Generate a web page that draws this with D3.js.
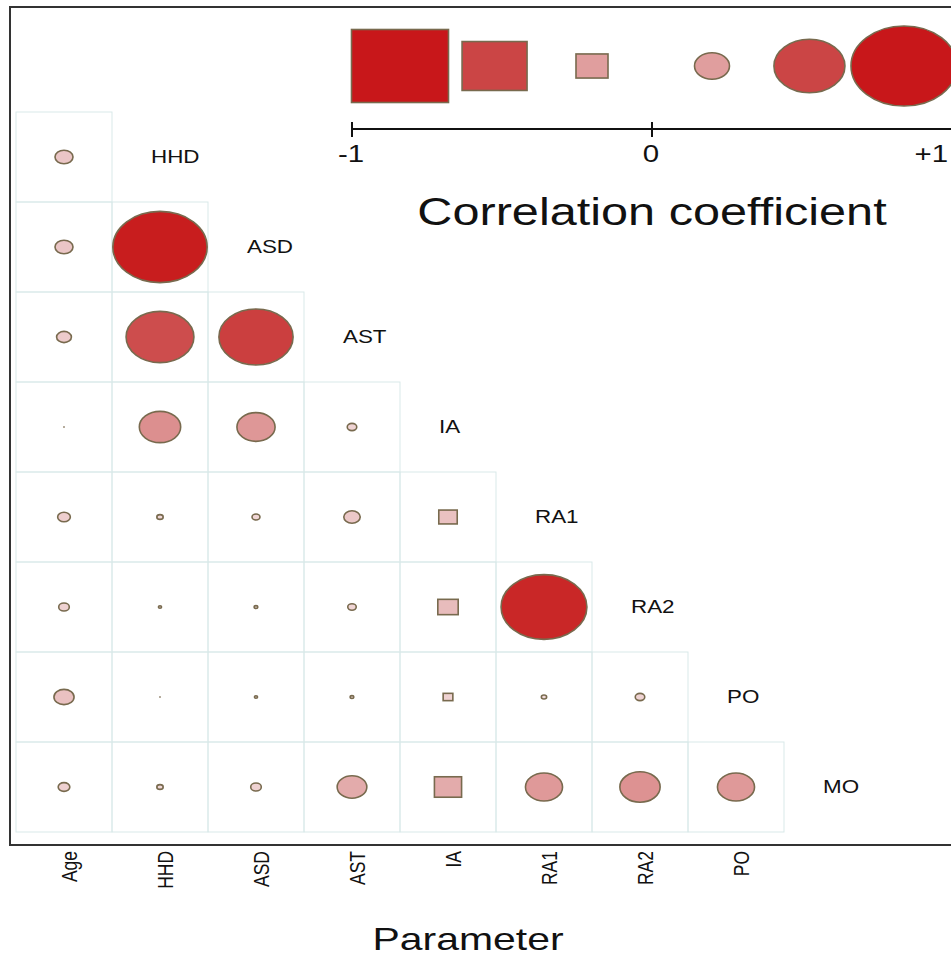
<!DOCTYPE html>
<html>
<head>
<meta charset="utf-8">
<script src="https://cdn.jsdelivr.net/npm/d3@7"></script>
<style>
  html, body { margin: 0; padding: 0; background: #fff; }
  svg { display: block; }
  text { font-family: "Liberation Sans", Arial, sans-serif; fill: #111; }
</style>
</head>
<body>
<script>
// ---- data ----
const colLabels = ["Age", "HHD", "ASD", "AST", "IA", "RA1", "RA2", "PO"];
const rowLabels = ["HHD", "ASD", "AST", "IA", "RA1", "RA2", "PO", "MO"];
const rowHHD = [0.17];
const rowASD = [0.17, 0.89];
const rowAST = [0.14, 0.64, 0.70];
const rowIA  = [0.01, 0.39, 0.36, 0.09];
const rowRA1 = [0.12, 0.06, 0.075, 0.155, -0.19];
const rowRA2 = [0.10, 0.03, 0.035, 0.08, -0.21, 0.81];
const rowPO  = [0.19, 0.01, 0.03, 0.035, -0.10, 0.05, 0.09];
const rowMO  = [0.11, 0.06, 0.10, 0.28, -0.28, 0.35, 0.38, 0.35];
const matrixRows = [rowHHD, rowASD, rowAST, rowIA, rowRA1, rowRA2, rowPO, rowMO];
const legendValues = [-1, -0.67, -0.33, 0.33, 0.67, 1];
const legendTicks = [-1, 0, 1];
const legendTickLabels = ["-1", "0", "+1"];
const legendTitle = "Correlation coefficient";
const xTitle = "Parameter";

// ---- layout ----
const W = 951, H = 956;
const SX = 1.28; // horizontal stretch of the original figure

const svg = d3.select("body").append("svg").attr("width", W).attr("height", H);

// scales
const x = d3.scaleBand().domain(d3.range(9)).range([16, 880]).padding(0);
const y = d3.scaleBand().domain(rowLabels).range([112, 832]).padding(0);
const rx = d3.scaleLinear().domain([0, 1]).range([0, 53]);
const ry = d3.scaleLinear().domain([0, 1]).range([0, 40]);
const sqW = d3.scaleLinear().domain([0, 1]).range([0, 97]);
const sqH = d3.scaleLinear().domain([0, 1]).range([0, 73]);
const color = d3.scaleLinear()
  .domain([0, 0.17, 0.33, 0.5, 0.67, 0.85, 1])
  .range(["#F4E2E2", "#EBC6C6", "#E09E9E", "#D67474", "#CB4545", "#C81F1F", "#C8171A"])
  .clamp(true);
const STROKE = "#786A4E";

// frame
svg.append("rect").attr("x", 10).attr("y", 7).attr("width", 960).attr("height", 838)
  .attr("fill", "none").attr("stroke", "#333").attr("stroke-width", 2);

function stext(parent, tx, ty, str, size, anchor, extra) {
  const g = parent.append("g").attr("transform", `translate(${tx},${ty}) scale(${SX},1)` + (extra || ""));
  return g.append("text").attr("x", 0).attr("y", 0).attr("text-anchor", anchor)
    .style("font-size", size + "px").text(str);
}

function drawShape(g, cx, cy, v) {
  const a = Math.abs(v);
  if (v >= 0) {
    g.append("ellipse").attr("cx", cx).attr("cy", cy)
      .attr("rx", Math.max(rx(a), 0.6)).attr("ry", Math.max(ry(a), 0.5))
      .attr("fill", color(a)).attr("stroke", STROKE).attr("stroke-width", a < 0.03 ? 0.8 : 1.6);
  } else {
    g.append("rect").attr("x", cx - sqW(a) / 2).attr("y", cy - sqH(a) / 2)
      .attr("width", sqW(a)).attr("height", sqH(a))
      .attr("fill", color(a)).attr("stroke", STROKE).attr("stroke-width", 1.6);
  }
}

// grid cells
const grid = svg.append("g");
matrixRows.forEach((vals, i) => {
  vals.forEach((v, j) => {
    grid.append("rect").attr("x", x(j)).attr("y", y(rowLabels[i]))
      .attr("width", x.bandwidth()).attr("height", y.bandwidth())
      .attr("fill", "none").attr("stroke", "#D9E9E9").attr("stroke-width", 1);
  });
});

// shapes
const marks = svg.append("g");
matrixRows.forEach((vals, i) => {
  const cy = y(rowLabels[i]) + y.bandwidth() / 2;
  vals.forEach((v, j) => {
    drawShape(marks, x(j) + x.bandwidth() / 2, cy, v);
  });
  // diagonal label
  stext(svg, x(vals.length) + 39, cy + 6, rowLabels[i], 17.5, "start");
});

// x-axis labels (rotated)
colLabels.forEach((lab, j) => {
  const cx = x(j) + x.bandwidth() / 2 + 13;
  svg.append("g").attr("transform", `translate(${cx},851) scale(${SX},1) rotate(-90)`)
    .append("text").attr("text-anchor", "end").style("font-size", "17.5px").text(lab);
});

// x title
stext(svg, 468, 950, xTitle, 32, "middle");

// ---- legend ----
const lx = d3.scaleLinear().domain([-1, 1]).range([352, 952]);
const lpos = d3.scaleLinear().domain([-1, -0.33, 0.33, 1]).range([400, 592, 712, 904]);
const leg = svg.append("g");
legendValues.forEach(v => drawShape(leg, lpos(v), 66, v));

leg.append("line").attr("x1", lx(-1)).attr("x2", lx(1)).attr("y1", 129).attr("y2", 129)
  .attr("stroke", "#111").attr("stroke-width", 2);
legendTicks.forEach((t, k) => {
  leg.append("line").attr("x1", lx(t)).attr("x2", lx(t)).attr("y1", 122).attr("y2", 137)
    .attr("stroke", "#111").attr("stroke-width", 2);
  const last = k === legendTicks.length - 1;
  stext(leg, last ? lx(t) - 4 : lx(t) - 1, 162, legendTickLabels[k], 23, last ? "end" : "middle");
});
stext(leg, lx(0), 225, legendTitle, 38, "middle");
</script>
</body>
</html>
